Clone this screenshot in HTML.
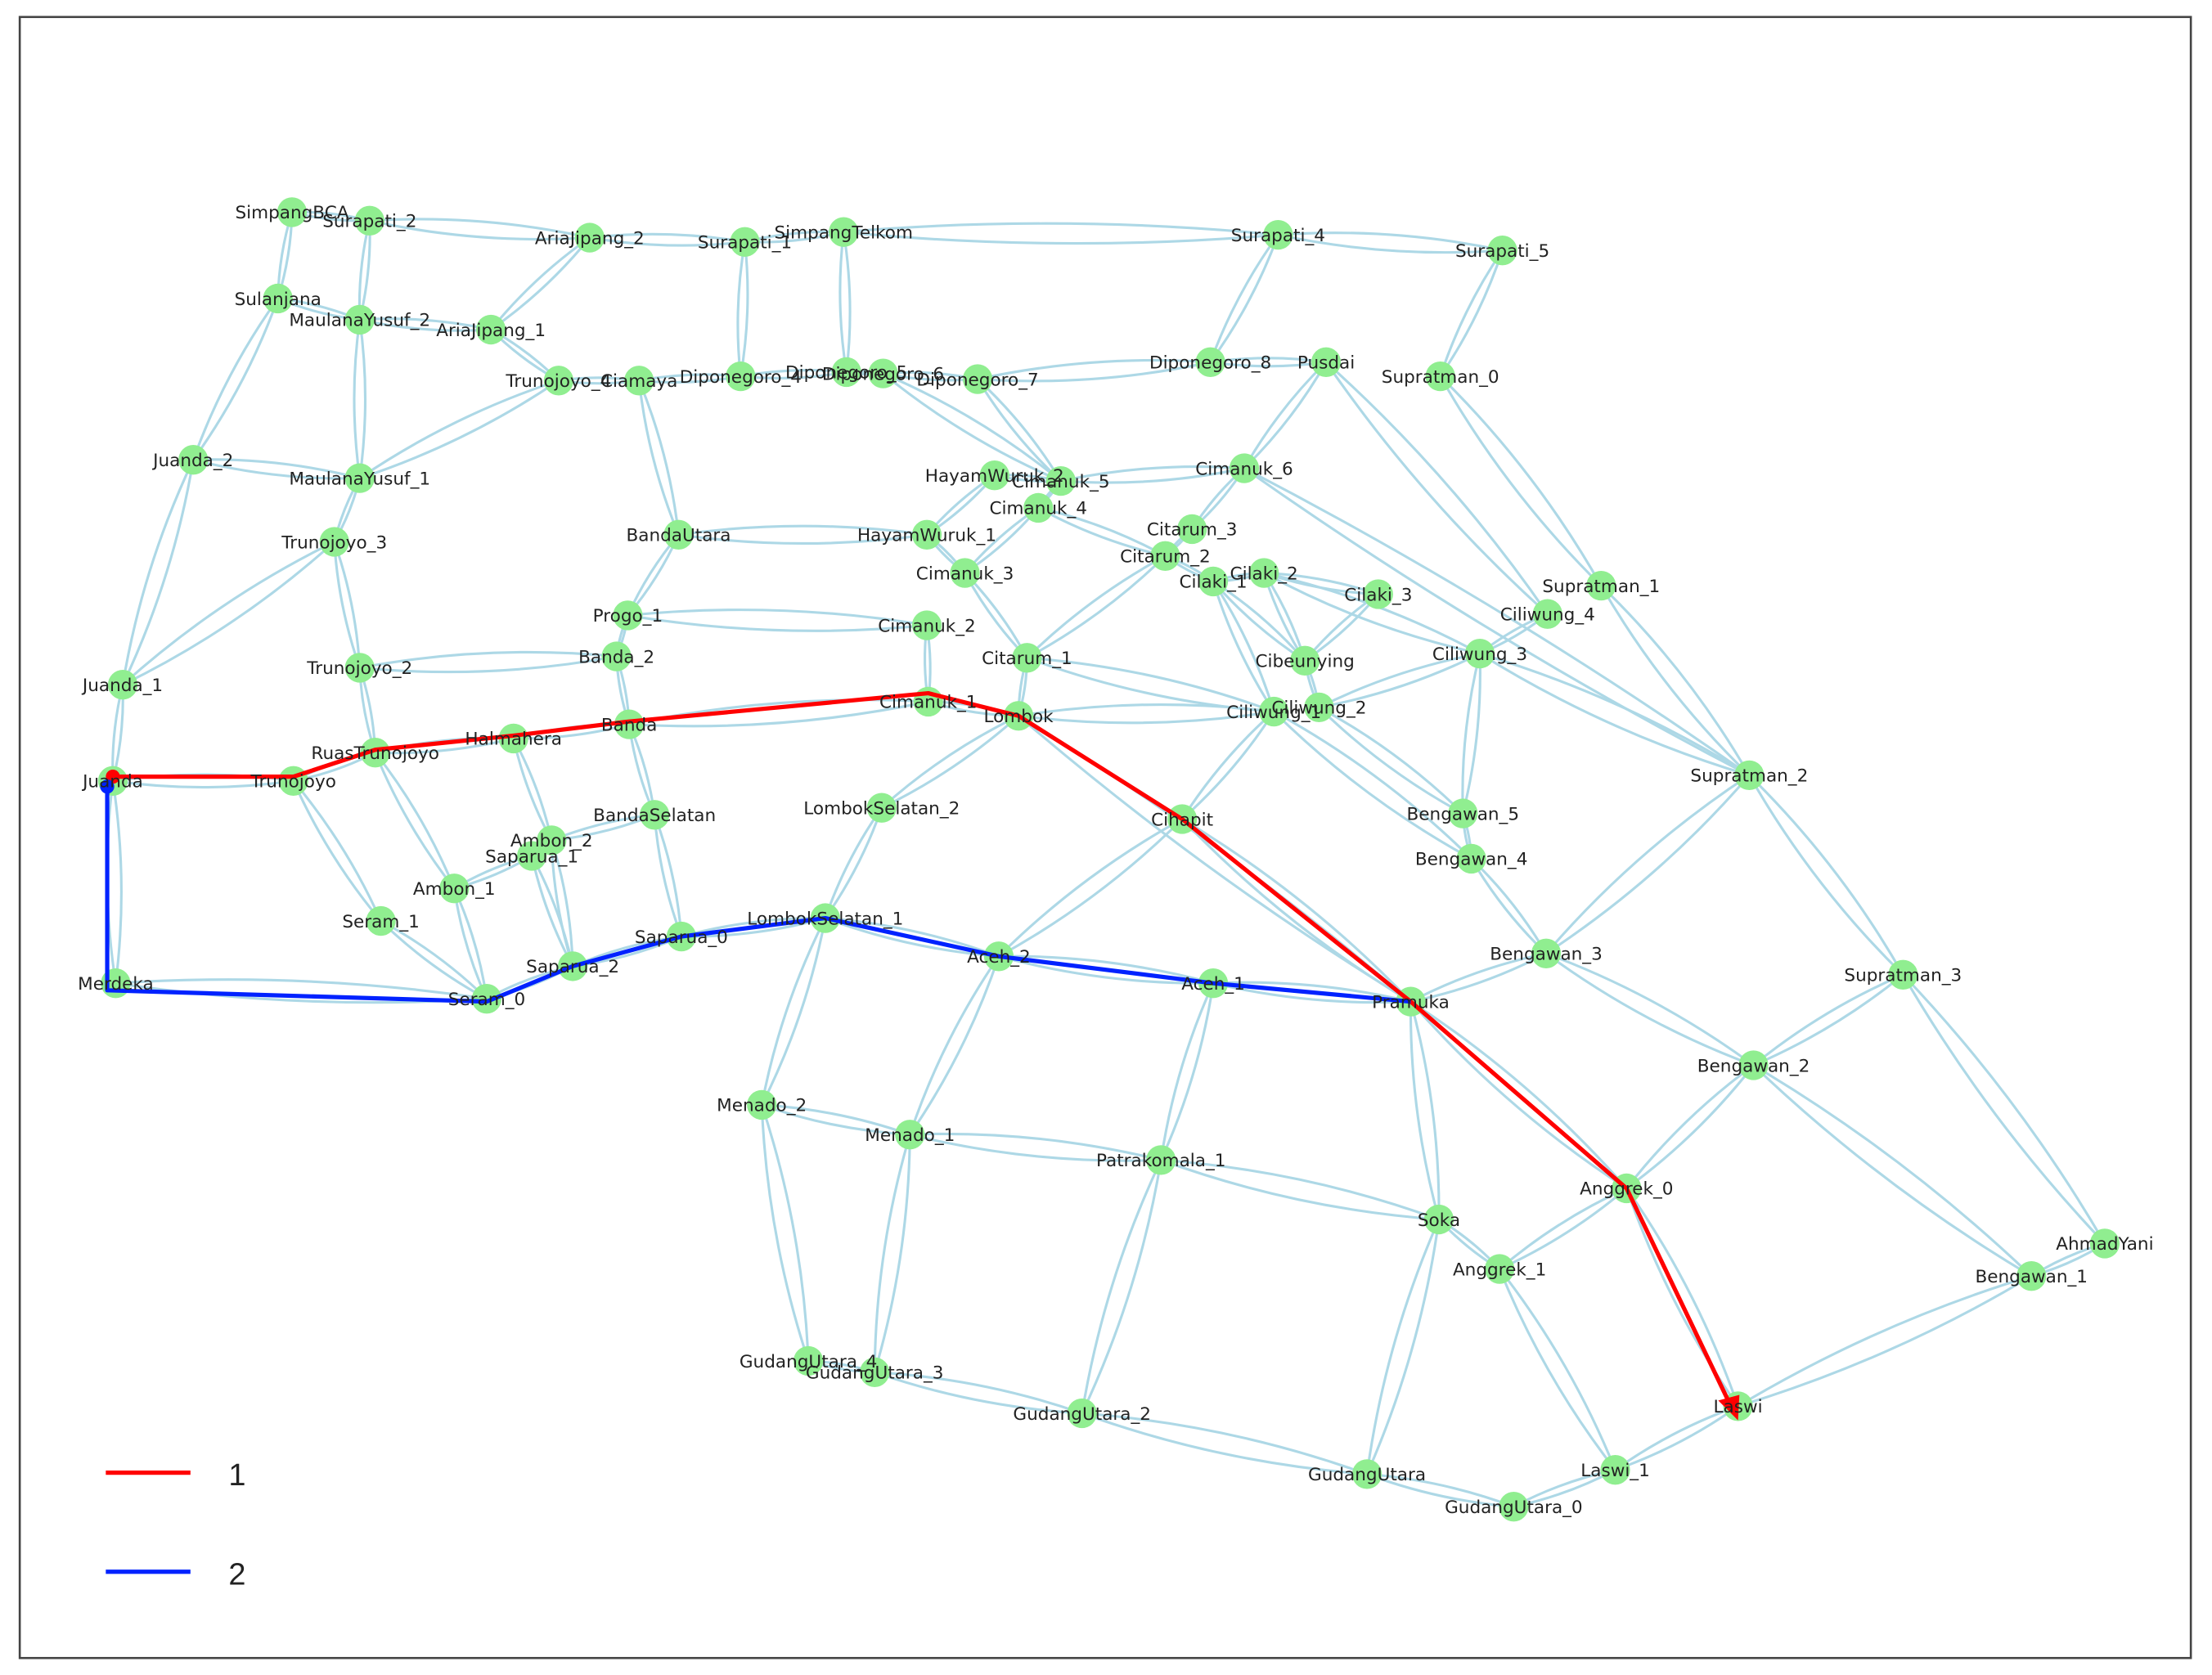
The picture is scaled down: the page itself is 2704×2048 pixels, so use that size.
<!DOCTYPE html>
<html><head><meta charset="utf-8"><style>
html,body{margin:0;padding:0;background:#fff;width:2704px;height:2048px;overflow:hidden}
svg{display:block}
text{font-family:"DejaVu Sans","Liberation Sans",sans-serif;font-size:12.5px;fill:#222}
</style></head><body>
<svg id="s" width="2704" height="2048" viewBox="0 0 1568 1184" preserveAspectRatio="none" xmlns="http://www.w3.org/2000/svg">
<rect x="0" y="0" width="1568" height="1184" fill="#fff"/>
<rect x="14" y="12" width="1539" height="1160" fill="none" stroke="#444" stroke-width="1.5"/>
<g id="edges" fill="none" stroke="#add8e6" stroke-width="1.8"></g>
<g id="nodes" fill="#90ee90"></g>
<g id="paths" fill="none" stroke-width="3" stroke-linejoin="round">
<polyline stroke="#ff0000" points="80,549 208,549 266,530 364,520 446,510 658,490 722,506 838,579 1000,708 1153,840 1226,992"/>
<polygon fill="#ff0000" stroke="none" points="1232,1004 1218,990 1233,986"/>
<polyline stroke="#0022ff" points="76,556 76,700 345,708 406,683 483,662 585,649 708,676 860,695 1000,708"/>
<circle cx="80" cy="549" r="5" fill="#ff0000" stroke="none"/>
<circle cx="76" cy="556" r="5" fill="#0022ff" stroke="none"/>
</g>
<g id="labels" text-anchor="middle"></g>
<line x1="75" y1="1041" x2="135" y2="1041" stroke="#ff0000" stroke-width="3"/>
<text x="162" y="1050" style="font-size:22px;font-family:'Liberation Sans',sans-serif">1</text>
<line x1="75" y1="1111" x2="135" y2="1111" stroke="#0022ff" stroke-width="3"/>
<text x="162" y="1120" style="font-size:22px;font-family:'Liberation Sans',sans-serif">2</text>
</svg>
<script>
var N={SimpangBCA:[207,150],Surapati_2:[262,156],AriaJipang_2:[418,168],Surapati_1:[528,171],SimpangTelkom:[598,164],Surapati_4:[906,166],Surapati_5:[1065,177],Sulanjana:[197,211],MaulanaYusuf_2:[255,226],AriaJipang_1:[348,233],Trunojoyo_4:[396,269],Ciamaya:[453,269],Diponegoro_4:[525,266],Diponegoro_5:[600,263],Diponegoro_6:[626,264],Diponegoro_7:[693,268],Diponegoro_8:[858,256],Pusdai:[940,256],Supratman_0:[1021,266],Juanda_2:[137,325],MaulanaYusuf_1:[255,338],HayamWuruk_2:[705,336],Cimanuk_5:[752,340],Cimanuk_6:[882,331],Cimanuk_4:[736,359],Citarum_3:[845,374],BandaUtara:[481,378],HayamWuruk_1:[657,378],Trunojoyo_3:[237,383],Citarum_2:[826,393],Cimanuk_3:[684,405],Cilaki_1:[860,411],Cilaki_2:[896,405],Cilaki_3:[977,420],Supratman_1:[1135,414],Ciliwung_4:[1097,434],Progo_1:[445,435],Cimanuk_2:[657,442],Banda_2:[437,464],Citarum_1:[728,465],Cibeunying:[925,467],Ciliwung_3:[1049,462],Juanda_1:[87,484],Trunojoyo_2:[255,472],Cimanuk_1:[658,496],Lombok:[722,506],Ciliwung_1:[903,503],Ciliwung_2:[935,500],Banda:[446,512],Halmahera:[364,522],RuasTrunojoyo:[266,532],Juanda:[80,552],Trunojoyo:[208,552],Supratman_2:[1240,548],LombokSelatan_2:[625,571],BandaSelatan:[464,576],Cihapit:[838,579],Bengawan_5:[1037,575],Ambon_2:[391,594],Saparua_1:[377,605],Bengawan_4:[1043,607],Ambon_1:[322,628],Seram_1:[270,651],LombokSelatan_1:[585,649],Saparua_0:[483,662],Aceh_2:[708,676],Bengawan_3:[1096,674],Saparua_2:[406,683],Supratman_3:[1349,689],Aceh_1:[860,695],Merdeka:[82,695],Seram_0:[345,706],Pramuka:[1000,708],Bengawan_2:[1243,753],Menado_2:[540,781],Menado_1:[645,802],Patrakomala_1:[823,820],Anggrek_0:[1153,840],Soka:[1020,862],AhmadYani:[1492,879],Anggrek_1:[1063,897],Bengawan_1:[1440,902],GudangUtara_4:[573,962],GudangUtara_3:[620,970],GudangUtara_2:[767,999],Laswi:[1232,994],Laswi_1:[1145,1039],GudangUtara:[969,1042],GudangUtara_0:[1073,1065]};
var E="SimpangBCA-Surapati_2,SimpangBCA-Sulanjana,Surapati_2-AriaJipang_2,Surapati_2-MaulanaYusuf_2,AriaJipang_2-Surapati_1,AriaJipang_2-AriaJipang_1,Surapati_1-SimpangTelkom,Surapati_1-Diponegoro_4,SimpangTelkom-Surapati_4,SimpangTelkom-Diponegoro_5,Surapati_4-Surapati_5,Surapati_4-Diponegoro_8,Surapati_5-Supratman_0,Sulanjana-MaulanaYusuf_2,Sulanjana-Juanda_2,MaulanaYusuf_2-AriaJipang_1,MaulanaYusuf_2-MaulanaYusuf_1,AriaJipang_1-Trunojoyo_4,Trunojoyo_4-Ciamaya,Trunojoyo_4-MaulanaYusuf_1,Ciamaya-Diponegoro_4,Ciamaya-BandaUtara,Diponegoro_4-Diponegoro_5,Diponegoro_5-Diponegoro_6,Diponegoro_6-Diponegoro_7,Diponegoro_6-Cimanuk_5,Diponegoro_7-Diponegoro_8,Diponegoro_7-Cimanuk_5,Diponegoro_8-Pusdai,Pusdai-Ciliwung_4,Pusdai-Cimanuk_6,Supratman_0-Supratman_1,Juanda_2-MaulanaYusuf_1,Juanda_2-Juanda_1,MaulanaYusuf_1-Trunojoyo_3,Trunojoyo_3-Juanda_1,Trunojoyo_3-Trunojoyo_2,Juanda_1-Juanda,HayamWuruk_2-Cimanuk_5,HayamWuruk_2-HayamWuruk_1,Cimanuk_5-Cimanuk_6,Cimanuk_5-Cimanuk_4,Cimanuk_6-Citarum_3,Cimanuk_6-Supratman_2,Cimanuk_4-Cimanuk_3,Cimanuk_4-Citarum_2,Citarum_3-Citarum_2,Citarum_2-Citarum_1,Citarum_2-Cilaki_1,BandaUtara-HayamWuruk_1,BandaUtara-Progo_1,HayamWuruk_1-Cimanuk_3,Cimanuk_3-Citarum_1,Cilaki_1-Cilaki_2,Cilaki_2-Cilaki_3,Cilaki_1-Cibeunying,Cilaki_2-Cibeunying,Cilaki_3-Cibeunying,Cilaki_2-Ciliwung_3,Cilaki_1-Ciliwung_1,Supratman_1-Supratman_2,Ciliwung_4-Ciliwung_3,Ciliwung_3-Supratman_2,Progo_1-Cimanuk_2,Progo_1-Banda_2,Cimanuk_2-Cimanuk_1,Banda_2-Trunojoyo_2,Banda_2-Banda,Citarum_1-Ciliwung_1,Citarum_1-Lombok,Cibeunying-Ciliwung_2,Ciliwung_3-Ciliwung_2,Ciliwung_3-Bengawan_5,Juanda-Trunojoyo,Juanda-Merdeka,Trunojoyo_2-RuasTrunojoyo,Cimanuk_1-Lombok,Cimanuk_1-Banda,Lombok-LombokSelatan_2,Lombok-Ciliwung_1,Ciliwung_1-Cihapit,Ciliwung_2-Bengawan_5,Ciliwung_1-Bengawan_4,Banda-Halmahera,Banda-BandaSelatan,Halmahera-RuasTrunojoyo,Halmahera-Ambon_2,RuasTrunojoyo-Trunojoyo,RuasTrunojoyo-Ambon_1,Trunojoyo-Seram_1,Supratman_2-Bengawan_3,Supratman_2-Supratman_3,LombokSelatan_2-LombokSelatan_1,BandaSelatan-Ambon_2,BandaSelatan-Saparua_0,Cihapit-Aceh_2,Cihapit-Pramuka,Lombok-Pramuka,Bengawan_5-Bengawan_4,Bengawan_4-Bengawan_3,Ambon_2-Saparua_2,Saparua_1-Ambon_1,Saparua_1-Saparua_2,Seram_1-Seram_0,Ambon_1-Seram_0,LombokSelatan_1-Saparua_0,LombokSelatan_1-Aceh_2,LombokSelatan_1-Menado_2,Saparua_0-Saparua_2,Aceh_2-Aceh_1,Aceh_2-Menado_1,Bengawan_3-Pramuka,Bengawan_3-Bengawan_2,Supratman_3-Bengawan_2,Supratman_3-AhmadYani,Aceh_1-Pramuka,Aceh_1-Patrakomala_1,Merdeka-Seram_0,Seram_0-Saparua_2,Pramuka-Soka,Pramuka-Anggrek_0,Bengawan_2-Anggrek_0,Bengawan_2-Bengawan_1,Menado_2-Menado_1,Menado_2-GudangUtara_4,Menado_1-Patrakomala_1,Menado_1-GudangUtara_3,Patrakomala_1-Soka,Patrakomala_1-GudangUtara_2,Anggrek_0-Anggrek_1,Anggrek_0-Laswi,Soka-Anggrek_1,Soka-GudangUtara,AhmadYani-Bengawan_1,Anggrek_1-Laswi_1,Bengawan_1-Laswi,GudangUtara_4-GudangUtara_3,GudangUtara_3-GudangUtara_2,GudangUtara_2-GudangUtara,Laswi-Laswi_1,GudangUtara-GudangUtara_0,GudangUtara_0-Laswi_1".split(",");
var ns="http://www.w3.org/2000/svg",ge=document.getElementById("edges"),gn=document.getElementById("nodes"),gl=document.getElementById("labels");
E.forEach(function(e){var p=e.split("-"),a=N[p[0]],b=N[p[1]];if(!a||!b)return;var dx=b[0]-a[0],dy=b[1]-a[1],L=Math.hypot(dx,dy),px=-dy/L,py=dx/L,o=Math.min(0.07*L,14),mx=(a[0]+b[0])/2,my=(a[1]+b[1])/2;
[1,-1].forEach(function(s){var q=document.createElementNS(ns,"path");q.setAttribute("d","M"+a[0]+","+a[1]+" Q"+(mx+s*o*px)+","+(my+s*o*py)+" "+b[0]+","+b[1]);ge.appendChild(q);});});
for(var k in N){var c=document.createElementNS(ns,"circle");c.setAttribute("cx",N[k][0]);c.setAttribute("cy",N[k][1]);c.setAttribute("r",10.5);gn.appendChild(c);
var t=document.createElementNS(ns,"text");t.setAttribute("x",N[k][0]);t.setAttribute("y",N[k][1]+4.5);t.textContent=k;gl.appendChild(t);}
</script>
</body></html>
